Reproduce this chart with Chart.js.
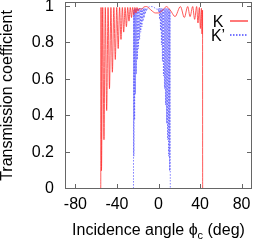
<!DOCTYPE html>
<html>
<head>
<meta charset="utf-8">
<script src="https://cdn.jsdelivr.net/npm/chart.js@4.4.0/dist/chart.umd.min.js"></script>
<style>
  html, body { margin: 0; padding: 0; background: #fff; }
  #wrap { width: 254px; height: 240px; }
</style>
</head>
<body>
<div id="wrap"><canvas id="tc"></canvas></div>
<script>
// Transmission coefficient vs incidence angle for the K and K' valleys
// values (peaks / dips of the oscillations)

const kAngle = [
  -90, -55.6, -55.3, -54.9, -53.7, -52.5, -51.2, -49.9, -48.55, -47.2,
  -45.8, -44.4, -43.0, -41.6, -40.2, -38.8, -37.45, -36.1, -34.8, -33.5,
  -32.2, -30.9, -29.65, -28.4, -27.2, -26.0, -24.9, -23.8, -22.75, -21.7,
  -20.7, -19.7, -18.7, -16.5, -14.0, -11.5, -9.0, -6.0, -3.0, 0.0,
  3.0, 5.5, 7.5, 10.0, 12.5, 15.9, 21.1, 24.9, 28.1, 30.4,
  32.9, 34.8, 36.7, 38.0, 39.3, 40.3, 41.3, 41.9, 42.4, 42.5,
  90
];
const kTrans = [
  0, 0, 0.995, 0.10, 0.995, 0.27, 0.995, 0.43, 0.995, 0.55,
  0.995, 0.64, 0.995, 0.71, 0.995, 0.77, 0.995, 0.82, 0.995, 0.86,
  0.995, 0.89, 0.995, 0.92, 0.995, 0.94, 0.995, 0.955, 0.995, 0.965,
  0.995, 0.975, 0.99, 0.985, 0.998, 1.0, 0.99, 0.975, 0.965, 0.965,
  0.975, 0.99, 1.0, 0.99, 0.97, 0.945, 1.0, 0.94, 1.0, 0.945,
  1.0, 0.93, 1.0, 0.91, 0.995, 0.88, 0.99, 0.85, 0.98, 0,
  0
];

const kpAngle = [
  -90, -24.1, -23.9, -23.7, -23.35, -23.0, -22.6, -22.2, -21.75, -21.3,
  -20.8, -20.3, -19.8, -19.3, -18.75, -18.2, -17.65, -17.1, -16.55, -16.0,
  -15.45, -14.9, -14.35, -13.8, -13.25, -12.7, -12.15, -11.6, -10.8, -9.0,
  -7.0, -5.0, -3.0, -1.2, -0.3, 0.2, 0.65, 1.1, 1.55, 2.0,
  2.45, 2.9, 3.35, 3.8, 4.3, 4.8, 5.3, 5.8, 6.3, 6.8,
  7.3, 7.8, 8.3, 8.8, 9.3, 9.8, 10.25, 10.7, 11.05, 11.4,
  90
];
const kpTrans = [
  0, 0, 0.98, 0.18, 0.985, 0.38, 0.99, 0.52, 0.99, 0.63,
  0.99, 0.71, 0.99, 0.77, 0.99, 0.82, 0.99, 0.86, 0.99, 0.89,
  0.99, 0.92, 0.99, 0.94, 0.99, 0.96, 0.99, 0.975, 0.99, 0.998,
  1.0, 0.998, 0.99, 0.985, 0.99, 0.97, 0.99, 0.93, 0.99, 0.87,
  0.99, 0.79, 0.99, 0.70, 0.99, 0.62, 0.99, 0.55, 0.99, 0.46,
  0.99, 0.36, 0.99, 0.27, 0.99, 0.18, 0.985, 0.10, 0.98, 0,
  0
];

const seriesNames = ['K', 'K\u2019'];
const seriesColors = ['#ff3030', '#4848ff'];
const seriesDash = [[], [1.5, 1.5]];
const xTicks = [-80, -40, 0, 40, 80];
const yTicks = [0, 0.2, 0.4, 0.6, 0.8, 1];

const FONT = '"Liberation Sans", Arial, sans-serif';

// border box and inward ticks
const framePlugin = {
  id: 'frame',
  afterDatasetsDraw(chart) {
    const { ctx, chartArea: a, scales } = chart;
    const x = scales.x, y = scales.y;
    ctx.save();
    ctx.strokeStyle = '#666';
    ctx.lineWidth = 1;
    ctx.strokeRect(Math.round(a.left) + 0.5, Math.round(a.top) + 0.5,
      Math.round(a.right - a.left) - 1, Math.round(a.bottom - a.top) - 1);
    ctx.beginPath();
    xTicks.forEach(v => {
      const px = Math.round(x.getPixelForValue(v)) + 0.5;
      ctx.moveTo(px, a.bottom); ctx.lineTo(px, a.bottom - 5);
      ctx.moveTo(px, a.top); ctx.lineTo(px, a.top + 5);
    });
    yTicks.forEach(v => {
      const py = Math.round(y.getPixelForValue(v)) - 0.5;
      ctx.moveTo(a.left, py); ctx.lineTo(a.left + 5, py);
      ctx.moveTo(a.right, py); ctx.lineTo(a.right - 5, py);
    });
    ctx.stroke();
    ctx.restore();
  }
};

// key in the top right corner and x title (with subscript)
const keyPlugin = {
  id: 'key',
  afterDraw(chart) {
    const { ctx, chartArea: a } = chart;
    ctx.save();
    ctx.font = '16px ' + FONT;
    ctx.textAlign = 'center';
    ctx.textBaseline = 'middle';
    seriesNames.forEach((name, i) => {
      const ry = a.top + 19 + i * 14;
      ctx.fillStyle = '#000';
      ctx.fillText(name, a.right - 34, ry + 1.5);
    });
    seriesNames.forEach((name, i) => {
      const ry = a.top + 19 + i * 14;
      ctx.beginPath();
      ctx.setLineDash(seriesDash[i]);
      ctx.lineWidth = 1.3;
      ctx.strokeStyle = seriesColors[i];
      ctx.moveTo(a.right - 22, ry);
      ctx.lineTo(a.right - 4, ry);
      ctx.stroke();
    });
    ctx.setLineDash([]);

    const parts = [
      { t: 'Incidence angle \u03d5', f: '16px ' + FONT, dy: 0 },
      { t: 'c', f: '11px ' + FONT, dy: 4 },
      { t: ' (deg)', f: '16px ' + FONT, dy: 0 }
    ];
    let total = 0;
    parts.forEach(p => { ctx.font = p.f; p.w = ctx.measureText(p.t).width; total += p.w; });
    let cx = (a.left + a.right) / 2 - total / 2;
    ctx.textAlign = 'left';
    ctx.textBaseline = 'alphabetic';
    ctx.fillStyle = '#000';
    parts.forEach(p => {
      ctx.font = p.f;
      ctx.fillText(p.t, cx, 235 + p.dy);
      cx += p.w;
    });
    ctx.restore();
  }
};

new Chart(document.getElementById('tc'), {
  type: 'line',
  data: {
    datasets: [
      {
        label: seriesNames[0],
        data: kAngle.map((v, i) => ({ x: v, y: kTrans[i] })),
        borderColor: seriesColors[0],
        borderDash: seriesDash[0],
        borderWidth: 0.8,
        pointRadius: 0,
        cubicInterpolationMode: 'monotone',
        fill: false
      },
      {
        label: seriesNames[1],
        data: kpAngle.map((v, i) => ({ x: v, y: kpTrans[i] })),
        borderColor: seriesColors[1],
        borderDash: seriesDash[1],
        borderWidth: 0.7,
        pointRadius: 0,
        cubicInterpolationMode: 'monotone',
        fill: false
      }
    ]
  },
  options: {
    responsive: true,
    maintainAspectRatio: false,
    animation: false,
    events: [],
    layout: { autoPadding: false, padding: { top: 2, right: 2, left: 0, bottom: 0 } },
    plugins: { legend: { display: false }, tooltip: { enabled: false } },
    scales: {
      x: {
        type: 'linear',
        min: -90,
        max: 90,
        afterBuildTicks: s => { s.ticks = xTicks.map(v => ({ value: v })); },
        afterFit: s => { s.height = 51; s.paddingLeft = 0; s.paddingRight = 0; },
        grid: { display: false, drawTicks: false },
        border: { display: false },
        ticks: {
          padding: 6,
          maxRotation: 0,
          color: '#000',
          font: { family: FONT, size: 16 },
          callback: v => String(v)
        }
      },
      y: {
        min: 0,
        max: 1.025,
        afterBuildTicks: s => { s.ticks = yTicks.map(v => ({ value: v })); },
        afterFit: s => { s.width = 65; s.paddingTop = 0; s.paddingBottom = 0; },
        grid: { display: false, drawTicks: false },
        border: { display: false },
        ticks: {
          padding: 11,
          color: '#000',
          font: { family: FONT, size: 16 },
          callback: v => (v === 0 || v === 1) ? String(v) : v.toFixed(1)
        },
        title: {
          display: true,
          text: 'Transmission coefficient',
          color: '#000',
          font: { family: FONT, size: 16, lineHeight: 1 },
          padding: 0
        }
      }
    }
  },
  plugins: [framePlugin, keyPlugin]
});
</script>
</body>
</html>
